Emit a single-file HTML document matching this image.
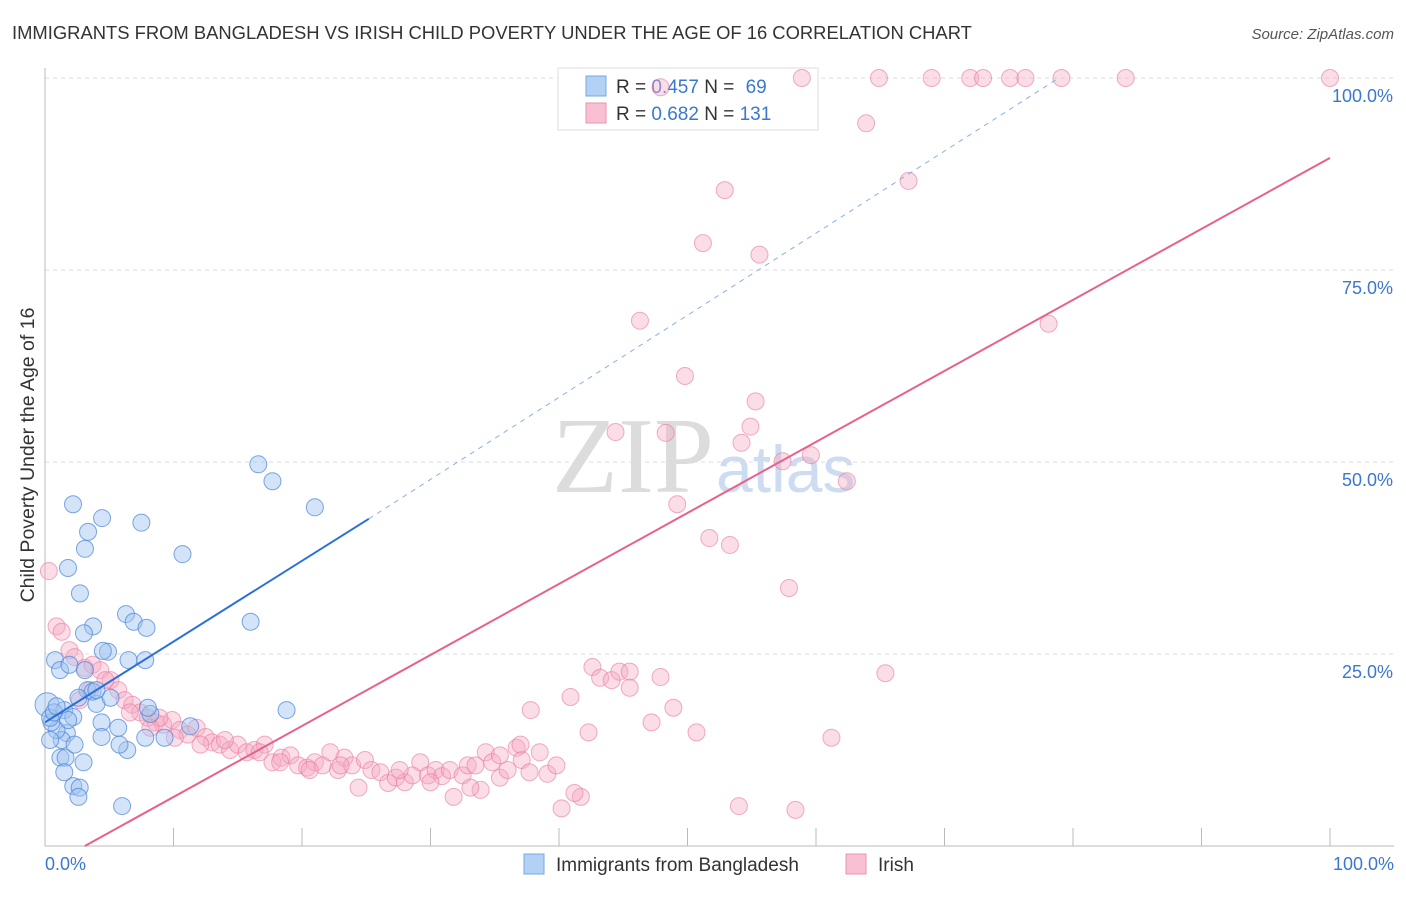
<!DOCTYPE html>
<html><head><meta charset="utf-8"><style>
body{margin:0;background:#fff;font-family:"Liberation Sans",sans-serif;}
svg text{font-family:"Liberation Sans",sans-serif;}
</style></head><body>
<svg id="chart" width="1406" height="892" xmlns="http://www.w3.org/2000/svg">
<text x="12" y="39" font-size="18.4" fill="#333">IMMIGRANTS FROM BANGLADESH VS IRISH CHILD POVERTY UNDER THE AGE OF 16 CORRELATION CHART</text>
<text x="1394" y="39" font-size="15" fill="#555" font-style="italic" text-anchor="end">Source: ZipAtlas.com</text>
<text x="714" y="492" font-size="108" fill="#dcdcdc" text-anchor="end" style="font-family:'Liberation Serif',serif">ZIP</text>
<text x="716" y="492" font-size="66" fill="#cddcf0">atlas</text>
<text transform="translate(34,455) rotate(-90)" font-size="19.5" fill="#333" text-anchor="middle">Child Poverty Under the Age of 16</text>
<g id="grid"></g><g id="axes"></g>
<g>
<rect x="558" y="68" width="260" height="62" fill="#fff" stroke="#ddd"/>
<rect x="586" y="76" width="20" height="20" fill="#b3d0f5" stroke="#7aa8e0"/>
<text x="616" y="93" font-size="19" fill="#333">R = <tspan fill="#3a78d0">0.457</tspan>   N = <tspan fill="#3a78d0" dx="6">69</tspan></text>
<rect x="586" y="103" width="20" height="20" fill="#f8c0d2" stroke="#eb92b2"/>
<text x="616" y="120" font-size="19" fill="#333">R = <tspan fill="#3a78d0">0.682</tspan>   N = <tspan fill="#3a78d0">131</tspan></text>
</g>
<g id="pts"></g><g id="lines"></g>
<g>
<rect x="524" y="854" width="20" height="20" fill="#b3d0f5" stroke="#7aa8e0"/>
<text x="556" y="871" font-size="19" fill="#333">Immigrants from Bangladesh</text>
<rect x="846" y="854" width="20" height="20" fill="#f8c0d2" stroke="#eb92b2"/>
<text x="878" y="871" font-size="19" fill="#333">Irish</text>
</g>
</svg>
<script>
const blueX=[.16,.78,1.17,2.18,1.79,3.35,3.11,4.44,2.72,3.74,3.03,4.9,4.5,6.3,6.9,7.9,7.5,6.5,7.8,10.7,16.6,17.7,21.0,16.0,18.8,11.3,9.3,7.8,6.4,5.8,5.7,4.4,4.4,4.0,3.3,3.7,2.6,3.1,1.9,1.5,2.2,1.7,1.3,.9,.5,.4,.7,.9,.4,1.2,1.6,1.5,2.2,2.7,2.6,6.0,3.0,2.3,1.8,8.2,8.0,5.1,4.0];
const blueY=[18.4,24.2,22.9,44.5,36.2,40.9,38.7,42.7,32.9,28.6,27.7,25.3,25.4,30.2,29.2,28.4,42.1,24.2,24.2,38.0,49.7,47.5,44.1,29.2,17.7,15.6,14.1,14.1,12.5,13.2,15.4,16.1,14.2,18.5,20.3,20.1,19.3,22.9,23.6,17.7,16.8,14.7,13.8,15.1,16.1,16.7,17.4,18.2,13.8,11.5,11.5,9.6,7.8,7.6,6.4,5.2,10.9,13.2,16.4,17.2,18.0,19.3,20.3];
const pinkX=[47.9,58.9,64.9,69.0,72.0,73.0,75.1,76.3,79.1,84.1,100,63.9,67.2,52.9,51.2,55.6,46.3,49.8,55.3,54.9,54.2,44.4,48.3,57.4,59.6,62.4,49.2,51.7,53.3,57.9,78.1,65.4,42.6,43.2,44.1,44.7,45.5,45.5,47.9,40.9,37.8,48.9,47.2,50.7,42.3,61.2,54.0,58.4,40.2,41.7,41.2,.3,.9,1.3,1.9,2.3,3.1,3.7,4.3,5.1,5.7,6.2,6.8,7.4,8.0,8.6,9.2,9.9,10.5,11.1,11.8,12.5,13.0,13.6,14.4,15.0,15.7,16.3,17.1,17.7,18.4,19.1,19.7,20.4,21.0,21.6,22.2,22.8,23.3,23.9,24.4,24.9,25.4,26.1,26.7,27.3,28.0,28.6,29.2,29.8,30.4,30.9,31.5,31.8,32.5,32.9,33.5,33.9,34.3,34.8,35.4,36.0,36.7,37.1,37.7,38.5,39.1,39.8,2.7,3.5,4.7,6.6,8.9,8.2,10.1,12.1,14.0,16.7,18.3,20.6,23.0,27.6,30.0,33.1,35.4,37.0];
const pinkY=[98.8,100,100,100,100,100,100,100,100,100,100,94.1,86.6,85.4,78.5,77.0,68.4,61.2,57.9,54.6,52.5,53.9,53.8,50.1,50.9,47.5,44.5,40.1,39.2,33.6,68.0,22.5,23.3,21.9,21.6,22.7,22.7,20.6,22.0,19.4,17.7,18.0,16.1,14.8,14.8,14.1,5.2,4.7,4.9,6.4,6.9,35.8,28.6,27.9,25.5,24.6,23.2,23.6,22.9,21.6,20.3,19.0,18.4,17.4,16.7,16.1,15.8,16.4,15.1,14.5,15.4,14.2,13.5,13.2,12.5,13.2,12.2,12.5,13.2,10.9,11.5,11.8,10.5,10.2,10.9,10.5,12.2,9.9,11.5,10.5,7.6,11.2,9.9,9.6,8.2,8.9,8.3,9.2,10.9,9.2,9.9,9.1,9.9,6.4,9.2,10.5,10.5,7.3,12.2,10.9,8.9,9.9,12.8,11.2,9.6,12.2,9.4,10.5,19.0,20.3,21.6,17.4,16.7,15.4,14.1,13.2,13.8,12.2,10.9,9.9,10.5,9.9,8.3,7.6,11.8,13.2];
const blueLine=[[0,16.1],[25.2,42.6]], blueDash=[[25.2,42.6],[78.9,100]];
const pinkLine=[[3.1,0],[100,89.6]];
const yTicks=[25,50,75,100], xTicks=[0,10,20,30,40,50,60,70,80,90,100];
const NS='http://www.w3.org/2000/svg';
const sx=v=>45+v*12.85, sy=v=>846-v*7.68;
function mk(tag,attrs,parent){const e=document.createElementNS(NS,tag);for(const k in attrs)e.setAttribute(k,attrs[k]);document.getElementById(parent).appendChild(e);return e;}
yTicks.forEach(t=>{
 const l=mk('line',{x1:45,x2:1394,y1:sy(t),y2:sy(t),stroke:'#ddd','stroke-dasharray':'4,4'},'grid');
 
 
 const tx=mk('text',{x:1393,y:sy(t)+24,'font-size':18,fill:'#3a78d0','text-anchor':'end'},'axes');
 tx.textContent=t.toFixed(1)+'%';
 
 
});
mk('line',{x1:45,x2:45,y1:68,y2:846,stroke:'#bbb'},'axes');
mk('line',{x1:45,x2:1394,y1:846,y2:846,stroke:'#bbb'},'axes');
xTicks.forEach(t=>{const l=mk('line',{x1:sx(t),x2:sx(t),y1:828,y2:846,stroke:'#bbb'},'axes');
 
 });
[[0,'0.0%','start',45],[100,'100.0%','end',1394]].forEach(a=>{const tx=mk('text',{x:a[3],y:870,'font-size':18,fill:'#3a78d0','text-anchor':a[2]},'axes');tx.textContent=a[1];
 
 });
pinkX.forEach((x,i)=>{const c=mk('circle',{cx:sx(x),cy:sy(pinkY[i]),r:8.5,fill:'rgba(245,170,195,0.4)',stroke:'rgba(232,120,160,0.6)','stroke-width':1},'pts');
 
 });
blueX.forEach((x,i)=>{const c=mk('circle',{cx:sx(x),cy:sy(blueY[i]),r:i==0?12:8.5,fill:'rgba(160,195,240,0.45)',stroke:'rgba(70,130,215,0.7)','stroke-width':1},'pts');
 
 });
let l1=mk('line',{x1:sx(blueLine[0][0]),y1:sy(blueLine[0][1]),x2:sx(blueLine[1][0]),y2:sy(blueLine[1][1]),stroke:'#2a70d8','stroke-width':2},'lines');


let l2=mk('line',{x1:sx(blueDash[0][0]),y1:sy(blueDash[0][1]),x2:sx(blueDash[1][0]),y2:sy(blueDash[1][1]),stroke:'#8ab0e0','stroke-width':1,'stroke-dasharray':'5,5'},'lines');


let l3=mk('line',{x1:sx(pinkLine[0][0]),y1:sy(pinkLine[0][1]),x2:sx(pinkLine[1][0]),y2:sy(pinkLine[1][1]),stroke:'#e8608c','stroke-width':2},'lines');


</script>
</body></html>
